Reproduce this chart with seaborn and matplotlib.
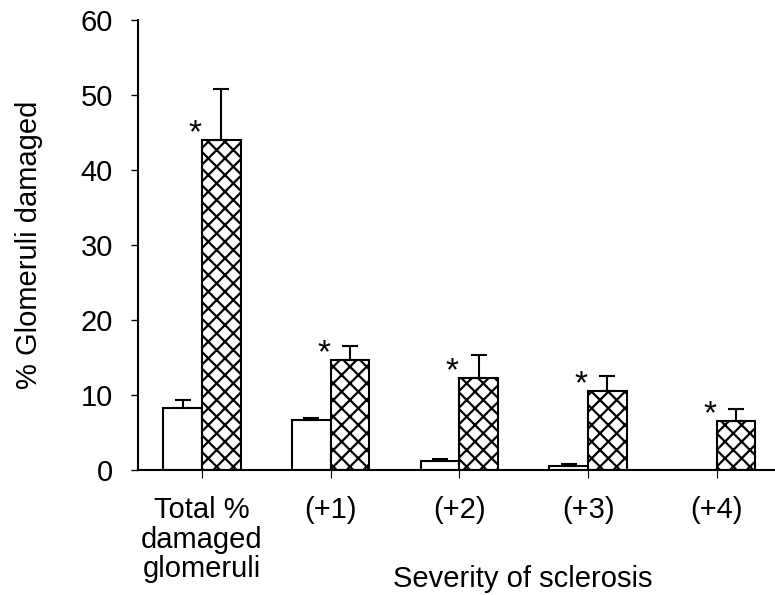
import numpy as np
import pandas as pd
import matplotlib
matplotlib.use("Agg")
import matplotlib.pyplot as plt
import seaborn as sns

categories = ["Total %\ndamaged\nglomeruli", "(+1)", "(+2)", "(+3)", "(+4)"]
groups = ["Control", "Treated"]
control_mean = [8.3, 6.7, 1.2, 0.6, 0.0]
control_err = [1.1, 0.3, 0.25, 0.25, 0.0]
treated_mean = [44.0, 14.7, 12.3, 10.6, 6.5]
treated_err = [6.8, 1.9, 3.1, 2.0, 1.7]
significant = [True, True, True, True, True]
yticks = [0, 10, 20, 30, 40, 50, 60]

df = pd.DataFrame({
    "category": categories * 2,
    "group": [groups[0]] * len(categories) + [groups[1]] * len(categories),
    "value": control_mean + treated_mean,
})

sns.set_theme(style="ticks")
plt.rcParams["font.family"] = ["Liberation Sans", "DejaVu Sans"]
plt.rcParams["hatch.linewidth"] = 1.6
plt.rcParams["hatch.color"] = "black"

FS = 21

fig = plt.figure(figsize=(7.75, 5.95), dpi=100)
ax = fig.add_axes([138 / 775, 1 - 470 / 595, 1 - 138 / 775, 450 / 595])

sns.barplot(data=df, x="category", y="value", hue="group", order=categories,
            hue_order=groups, palette=["white", "white"], width=0.6,
            errorbar=None, edgecolor="black", linewidth=1.5, legend=False,
            saturation=1, ax=ax)

bar_conts = list(ax.containers[:2])
for bar in bar_conts[1]:
    bar.set_hatch("xx")

errs = [control_err, treated_err]
for ci, cont in enumerate(bar_conts):
    xs = [b.get_x() + b.get_width() / 2 for b in cont]
    hs = [b.get_height() for b in cont]
    e = errs[ci]
    keep = [i for i in range(len(xs)) if e[i] > 0]
    ax.errorbar([xs[i] for i in keep], [hs[i] for i in keep],
                yerr=[[0] * len(keep), [e[i] for i in keep]],
                fmt="none", ecolor="black", elinewidth=1.5, capsize=5.5,
                capthick=1.5, zorder=3)

for b, sig in zip(bar_conts[1], significant):
    if sig:
        ax.annotate("*", xy=(b.get_x(), b.get_height()), xytext=(-5, -1.7),
                    textcoords="offset points", ha="center", va="baseline",
                    fontsize=24, color="black")

ax.set_ylim(0, 60)
ax.set_xlim(-0.497, 4.452)
ax.set_yticks(yticks)
ax.set_yticklabels([str(t) for t in yticks])
sns.despine(ax=ax)
for s in ["left", "bottom"]:
    ax.spines[s].set_linewidth(1.5)
    ax.spines[s].set_color("black")
ax.tick_params(axis="y", direction="out", length=5, width=1, pad=13,
               labelsize=FS, colors="black")
ax.tick_params(axis="x", direction="out", length=6, width=0.8, pad=13,
               labelsize=FS, colors="black")
for lbl in ax.get_xticklabels():
    lbl.set_linespacing(1.06)

ax.set_ylabel("% Glomeruli damaged", fontsize=FS, labelpad=27, color="black")
ax.set_xlabel("Severity of sclerosis", fontsize=FS, color="black")
ax.xaxis.set_label_coords((523 - 138) / (775 - 138), (470 - 565) / 450)

fig.savefig("out.png", dpi=100, facecolor="white")
